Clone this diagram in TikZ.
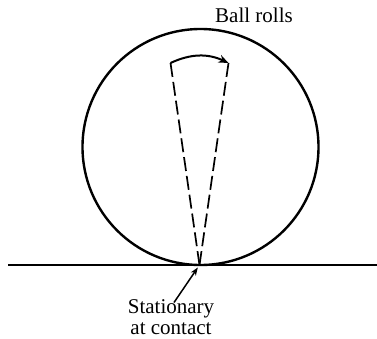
\documentclass[tikz,border=0pt]{standalone}
\usepackage{fontspec}
\setmainfont{Liberation Serif}
\usetikzlibrary{arrows.meta}
\tikzset{
  lbl/.style={font=\fontsize{21}{21}\selectfont, inner sep=0pt},
  ballstyle/.style={circle, draw, line width=2.4pt, minimum size=236pt, inner sep=0pt},
  radius line/.style={dashed, dash pattern=on 14pt off 5pt, line width=1.7pt},
  rot arrow/.style={line width=2pt, -{Stealth[length=10pt,width=8pt]}},
  ptr arrow/.style={line width=1.5pt, -{Stealth[length=8pt,width=6pt]}},
}
\begin{document}
\begin{tikzpicture}[x=1pt,y=-1pt]
\useasboundingbox (0,0) rectangle (377,339);
\node[ballstyle] (ball) at (200.5,147) {};
\coordinate (gl) at (8,265);
\coordinate (gr) at (377,265);
\draw[line width=2.7pt] (gl) -- (gr);
\coordinate (contact) at (199.5,265);
\coordinate (pl) at (170.5,63);
\coordinate (pr) at (228.5,63);
\draw[radius line] (contact) -- (pl);
\draw[radius line] (contact) -- (pr);
\draw[rot arrow] (pl) to[bend left=25] (pr);
\node[lbl, anchor=base] (rolls) at (254,22.7) {Ball rolls};
\node[lbl, anchor=base, align=center] (stat) at (171,334.5) {Stationary\\at contact};
\coordinate (tail) at (174,302.5);
\draw[ptr arrow, shorten >=3pt] (tail) -- (contact);
\end{tikzpicture}
\end{document}
